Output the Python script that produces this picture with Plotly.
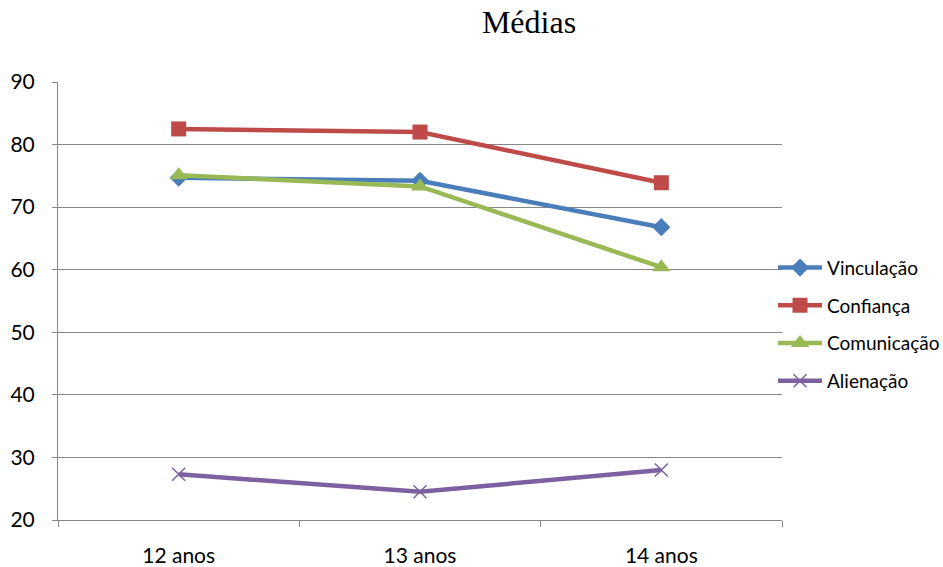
import plotly.graph_objects as go

categories = ["12 anos", "13 anos", "14 anos"]
vinculacao = [74.7, 74.2, 66.8]
confianca = [82.5, 82.0, 73.9]
comunicacao = [75.1, 73.3, 60.4]
alienacao = [27.3, 24.5, 28.0]
y_ticks = [20, 30, 40, 50, 60, 70, 80, 90]

series = [
    ("Vinculação", vinculacao, "#4A7EBB", "diamond", 14, 0),
    ("Confiança", confianca, "#BE4B48", "square", 15, 0),
    ("Comunicação", comunicacao, "#98B954", "triangle-up", 16, 0),
    ("Alienação", alienacao, "#7D60A0", "x-thin", 13, 1.5),
]

fig = go.Figure()
for i, (name, vals, color, sym, size, lw) in enumerate(series):
    fig.add_trace(go.Scatter(
        x=categories, y=vals, name=name, mode="lines+markers",
        line=dict(color=color, width=4.5),
        marker=dict(symbol=sym, size=size, color=color,
                    line=dict(color=color, width=lw)),
        legendgroup=f"g{i}",
    ))

font_family = "Lato, Carlito, 'Liberation Sans', sans-serif"
fig.update_layout(
    width=943, height=567,
    paper_bgcolor="white", plot_bgcolor="white",
    margin=dict(l=58, r=161, t=82, b=47, autoexpand=False),
    title=dict(text="Médias", x=529/943, xanchor="center", y=1 - 22/567, yanchor="middle",
               font=dict(family="'Liberation Serif', 'Times New Roman', serif", size=32, color="black")),
    font=dict(family=font_family, size=21, color="black"),
    legend=dict(x=0.9876, xanchor="left", y=0.447, yanchor="middle",
                font=dict(family=font_family, size=19, color="black"),
                tracegroupgap=10, itemwidth=44, bgcolor="rgba(0,0,0,0)"),
    showlegend=True,
)
fig.update_xaxes(
    type="category", range=[-0.5, 2.5], showline=True, linecolor="#868686", linewidth=1,
    ticks="outside", tickson="boundaries", ticklen=6, tickcolor="#868686",
    showgrid=False, tickfont=dict(size=21), ticklabelstandoff=17,
)
fig.update_yaxes(
    range=[20, 90], tickvals=y_ticks, showline=True, linecolor="#868686", linewidth=1,
    ticks="outside", ticklen=5, tickcolor="#868686",
    showgrid=True, gridcolor="#868686", gridwidth=1, zeroline=False,
    tickfont=dict(size=21), ticklabelstandoff=13,
)
fig.write_html("out.html", config={"displayModeBar": False},
               post_script="document.body.style.margin='0';")
